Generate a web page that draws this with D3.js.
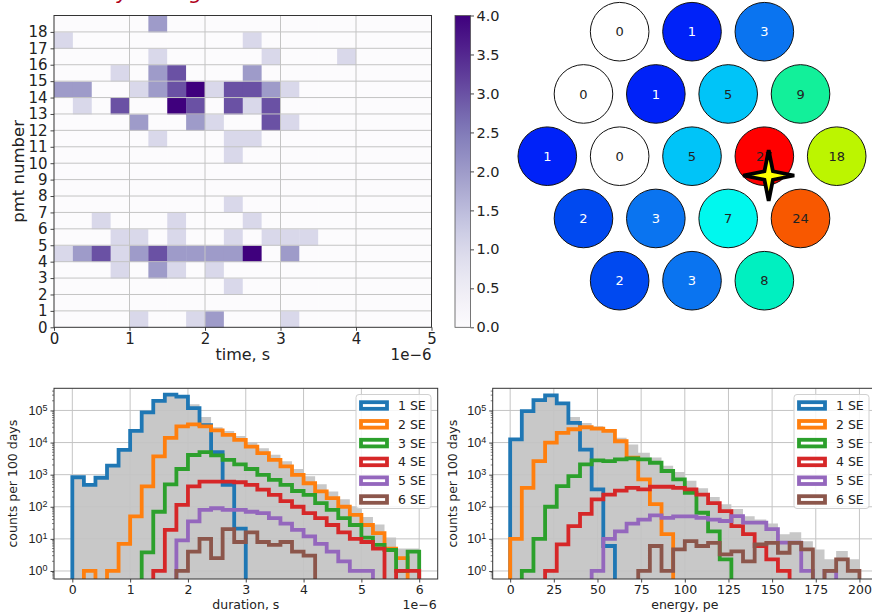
<!DOCTYPE html>
<html lang="en">
<head>
<meta charset="UTF-8">
<title>pmt hits, hexagon map, duration and energy histograms</title>
<script src="https://cdn.jsdelivr.net/npm/d3@7"></script>
<style>
  body { margin: 0; background: #fff; }
  svg { display: block; font-family: "DejaVu Sans", sans-serif; }
</style>
</head>
<body>
<svg id="fig" width="872" height="613"></svg>
<script>
// ---- data ----
// top left: photon counts, [pmt, time bin (0.25 us), count]
const timeBins = d3.range(20).map(i => i * 0.25);
const pmtRows = d3.range(19);
const hitCells = [
  [18, 5, 2],
  [17, 0, 1], [17, 10, 1],
  [16, 5, 1], [16, 11, 1], [16, 15, 1],
  [15, 3, 1], [15, 5, 2], [15, 6, 3], [15, 10, 2],
  [14, 0, 2], [14, 1, 2], [14, 4, 1], [14, 5, 2], [14, 6, 3], [14, 7, 4], [14, 8, 1], [14, 9, 3], [14, 10, 3], [14, 11, 2], [14, 12, 1],
  [13, 1, 1], [13, 3, 3], [13, 6, 4], [13, 7, 3], [13, 9, 3], [13, 10, 1], [13, 11, 3],
  [12, 4, 2], [12, 7, 2], [12, 8, 1], [12, 11, 3], [12, 12, 1],
  [11, 5, 1], [11, 9, 1], [11, 10, 1],
  [10, 9, 1],
  [7, 9, 1],
  [6, 2, 1], [6, 6, 1], [6, 10, 1],
  [5, 3, 1], [5, 4, 1], [5, 6, 1], [5, 9, 1], [5, 11, 1], [5, 12, 1], [5, 13, 1],
  [4, 0, 1], [4, 1, 2], [4, 2, 3], [4, 3, 1], [4, 4, 2], [4, 5, 3], [4, 6, 2], [4, 7, 2], [4, 8, 2], [4, 9, 2], [4, 10, 4], [4, 12, 2],
  [3, 3, 1], [3, 5, 2], [3, 6, 1], [3, 8, 1],
  [2, 9, 1],
  [0, 4, 1], [0, 7, 1], [0, 8, 2], [0, 12, 1]
];
const colorbarTicks = [0, 0.5, 1, 1.5, 2, 2.5, 3, 3.5, 4];

// top right: counts per pmt, hexagon rows top to bottom
const hexRows = [
  [0, 1, 3],
  [0, 1, 5, 9],
  [1, 0, 5, 27, 18],
  [2, 3, 7, 24],
  [2, 3, 8]
];
const starHex = [1.06, 0.31]; // reconstructed position, in pmt pitch units

// bottom: histograms, 30 bins each
const durEdges = d3.range(31).map(i => i * 0.2);       // us
const eneEdges = d3.range(31).map(i => i * 200 / 30);  // pe
const seLabels = ["1 SE", "2 SE", "3 SE", "4 SE", "5 SE", "6 SE"];

const durAll = [830, 480, 800, 1900, 5900, 23000, 88000, 205000, 325000, 300000, 155000, 62000, 30000, 23000, 16000, 10500, 6600, 4200, 2600, 1500, 900, 500, 300, 170, 100, 48, 28, 11, 5, 5];
const durSE1 = [830, 480, 800, 1900, 5900, 23000, 87000, 200000, 310000, 270000, 118000, 35000, 5000, 480, 21, 0, 0, 0, 0, 0, 0, 0, 0, 0, 0, 0, 0, 0, 0, 0];
const durSE2 = [0, 1, 0, 1, 7, 50, 430, 3700, 14000, 32000, 37000, 32000, 24000, 17400, 12200, 7500, 4700, 2900, 1800, 990, 540, 300, 185, 100, 56, 27, 15, 5, 2.5, 0];
const durSE3 = [0, 0, 0, 0, 0, 0, 3.8, 70, 500, 1500, 4100, 5000, 4000, 2900, 2100, 1500, 990, 690, 480, 310, 235, 130, 80, 44, 27, 11, 6.5, 4.5, 1, 4];
const durSE4 = [0, 0, 0, 0, 0, 0, 0, 1, 19, 115, 430, 610, 610, 610, 580, 480, 340, 235, 150, 100, 63, 44, 27, 16, 10, 8, 5, 0, 1, 1];
const durSE5 = [0, 0, 0, 0, 0, 0, 0, 0, 0, 9, 35, 80, 90, 80, 80, 70, 63, 44, 30, 19, 12, 7, 4, 2, 1, 1, 0, 0, 0, 0];
const durSE6 = [0, 0, 0, 0, 0, 0, 0, 0, 0, 1, 4, 10, 2.5, 20, 8, 16, 8, 6.5, 8, 4, 3, 0, 0, 0, 0, 0, 0, 0, 0, 0];

const eneAll = [12500, 95000, 210000, 300000, 170000, 63000, 41000, 32000, 26000, 14000, 8700, 4800, 3400, 1900, 1200, 650, 380, 200, 120, 85, 51, 40, 30, 14, 16, 8.5, 4.7, 2.3, 4.2, 2.3];
const eneSE1 = [12500, 95000, 210000, 295000, 165000, 41000, 6000, 350, 6, 0, 0, 0, 0, 0, 0, 0, 0, 0, 0, 0, 0, 0, 0, 0, 0, 0, 0, 0, 0, 0];
const eneSE2 = [10, 390, 2650, 10000, 20000, 26000, 30000, 27000, 23000, 11000, 3400, 710, 120, 14, 0, 0, 0, 0, 0, 0, 0, 0, 0, 0, 0, 0, 0, 0, 0, 0];
const eneSE3 = [0, 1, 10, 100, 440, 900, 2100, 2800, 2650, 3000, 3200, 3000, 2350, 1300, 710, 270, 65, 17, 2.3, 0, 0, 0, 0, 0, 0, 0, 0, 0, 0, 0];
const eneSE4 = [0, 0, 0, 1, 6.7, 25, 60, 170, 240, 320, 390, 350, 420, 420, 390, 350, 240, 130, 73, 25, 14, 6, 2.3, 1, 0, 0, 0, 0, 0, 0];
const eneSE5 = [0, 0, 0, 0, 0, 0, 0, 1, 10, 17, 30, 40, 54, 45, 50, 50, 45, 40, 36, 51, 32, 32, 20, 7.6, 7.6, 1, 0, 1, 0, 0];
const eneSE6 = [0, 0, 0, 0, 0, 0, 0, 0, 0, 0, 0, 1, 6, 1, 4.7, 8.5, 6, 7.5, 3.3, 4.1, 2, 6.7, 7.5, 3.7, 7.5, 4.7, 0, 1, 2.3, 1];

// ---- drawing ----
const svg = d3.select('#fig');
const ink = '#222';
const gridCol = '#c4c4c4';

// slide title above the heatmap, cropped at the top edge like the reference
svg.append('text').attr('x', 37).attr('y', -1.5)
  .attr('font-size', 21).attr('font-style', 'italic').attr('fill', '#b0001a')
  .text('Anomaly in ring');

// ---------- heatmap ----------
const hx = d3.scaleLinear().domain([0, 5]).range([54, 431.5]);
const hy = d3.scaleLinear().domain([0, 19]).range([327.3, 15.5]);
const heatColor = v => d3.interpolatePurples(v / 4);

const cells = [];
pmtRows.forEach(p => timeBins.forEach(t => cells.push({ p, t, v: 0 })));
hitCells.forEach(([p, c, v]) => { cells[p * timeBins.length + c].v = v; });

const gH = svg.append('g');
gH.selectAll('rect.cell').data(cells).join('rect')
  .attr('class', 'cell')
  .attr('x', d => hx(d.t)).attr('y', d => hy(d.p + 1))
  .attr('width', hx(0.25) - hx(0) + 0.4)
  .attr('height', hy(0) - hy(1) + 0.4)
  .attr('fill', d => heatColor(d.v));

gH.selectAll('line.gx').data(d3.range(1, 5)).join('line')
  .attr('x1', d => hx(d)).attr('x2', d => hx(d))
  .attr('y1', hy(0)).attr('y2', hy(19))
  .attr('stroke', gridCol).attr('stroke-width', 1);
gH.selectAll('line.gy').data(d3.range(1, 19)).join('line')
  .attr('y1', d => hy(d)).attr('y2', d => hy(d))
  .attr('x1', hx(0)).attr('x2', hx(5))
  .attr('stroke', gridCol).attr('stroke-width', 1);
gH.append('rect').attr('x', hx(0)).attr('y', hy(19))
  .attr('width', hx(5) - hx(0)).attr('height', hy(0) - hy(19))
  .attr('fill', 'none').attr('stroke', '#333').attr('stroke-width', 1);

function styleAxis(g, size) {
  g.select('.domain').remove();
  g.selectAll('.tick line').attr('stroke', '#333').attr('stroke-width', 0.9);
  g.selectAll('.tick text').attr('fill', ink).attr('font-size', size)
    .attr('font-family', '"DejaVu Sans", sans-serif');
}

gH.append('g').attr('transform', `translate(0,${hy(0)})`)
  .call(d3.axisBottom(hx).tickValues(d3.range(6)).tickFormat(d3.format('d')).tickSize(3.5).tickPadding(3))
  .call(g => styleAxis(g, 15));
gH.append('g').attr('transform', `translate(${hx(0)},0)`)
  .call(d3.axisLeft(hy).tickValues(pmtRows).tickFormat(d3.format('d')).tickSize(3.5).tickPadding(3))
  .call(g => styleAxis(g, 15));

gH.append('text').attr('x', (hx(0) + hx(5)) / 2).attr('y', 360)
  .attr('text-anchor', 'middle').attr('font-size', 16).attr('fill', ink).text('time, s');
gH.append('text').attr('x', hx(5)).attr('y', 360)
  .attr('text-anchor', 'end').attr('font-size', 15).attr('fill', ink).text('1e\u22126');
gH.append('text').attr('transform', `translate(24,${(hy(0) + hy(19)) / 2}) rotate(-90)`)
  .attr('text-anchor', 'middle').attr('font-size', 16.5).attr('fill', ink).text('pmt number');

// colorbar
const cb = d3.scaleLinear().domain([0, 4]).range([hy(0), hy(19)]);
const grad = svg.append('defs').append('linearGradient').attr('id', 'purples')
  .attr('x1', 0).attr('y1', 1).attr('x2', 0).attr('y2', 0);
grad.selectAll('stop').data(d3.range(0, 1.0001, 0.05)).join('stop')
  .attr('offset', d => d).attr('stop-color', d => d3.interpolatePurples(d));
svg.append('rect').attr('x', 455).attr('y', cb(4)).attr('width', 15.5).attr('height', cb(0) - cb(4))
  .attr('fill', 'url(#purples)').attr('stroke', '#555').attr('stroke-width', 0.8);
svg.append('g').attr('transform', 'translate(470.5,0)')
  .call(d3.axisRight(cb).tickValues(colorbarTicks).tickFormat(d3.format('.1f')).tickSize(3.5).tickPadding(2.5))
  .call(g => styleAxis(g, 14.5));

// ---------- hexagon map ----------
const pitchX = d3.scaleLinear().domain([-2, 2]).range([547.3, 836.7]);
const pitchY = d3.scaleLinear().domain([-2, 2]).range([31.7, 280.7]);
const hexColor = d3.scaleLinear()
  .domain([1, 2, 3, 5, 7, 8, 9, 18, 24, 27])
  .range(['#0022f8', '#0049f0', '#0a74f0', '#00c4f8', '#00f8ee', '#00f0c0', '#12f09a', '#bcf500', '#f85800', '#ff0000'])
  .clamp(true);
const pmts = [];
hexRows.forEach((row, r) => row.forEach((v, i) => pmts.push({ v, hx: i - (row.length - 1) / 2, hy: r - 2 })));

const gP = svg.append('g');
gP.selectAll('circle').data(pmts).join('circle')
  .attr('cx', d => pitchX(d.hx)).attr('cy', d => pitchY(d.hy)).attr('r', 29.3)
  .attr('fill', d => d.v === 0 ? '#ffffff' : hexColor(d.v))
  .attr('stroke', '#111').attr('stroke-width', 1);
gP.selectAll('text').data(pmts).join('text')
  .attr('x', d => pitchX(d.hx)).attr('y', d => pitchY(d.hy)).attr('dy', '0.36em')
  .attr('text-anchor', 'middle').attr('font-size', 13)
  .attr('fill', d => (d.v >= 1 && d.v <= 3) ? '#ffffff' : ink)
  .text(d => d.v);

const starPath = d3.range(8).map(k => {
  const a = k * Math.PI / 4 - Math.PI / 2, rr = k % 2 === 0 ? 25.5 : 6;
  return [rr * Math.cos(a), rr * Math.sin(a)];
});
gP.append('path')
  .attr('d', 'M' + starPath.join('L') + 'Z')
  .attr('transform', `translate(${pitchX(starHex[0])},${pitchY(starHex[1])})`)
  .attr('fill', '#ffff00').attr('stroke', '#000').attr('stroke-width', 3.8)
  .attr('stroke-linejoin', 'miter');

// ---------- histograms ----------
const seColors = ['#1f77b4', '#ff7f0e', '#2ca02c', '#d62728', '#9467bd', '#8c564b'];
const yLog = d3.scaleLog().domain([Math.pow(10, -0.25), Math.pow(10, 5.69)]).range([579, 388.3]);

function stepPoints(vals, edges, x) {
  const low = 1e-3;
  const pts = [[x(edges[0]), yLog(low)]];
  vals.forEach((v, i) => {
    const yy = yLog(v > 0 ? v : low);
    pts.push([x(edges[i]), yy], [x(edges[i + 1]), yy]);
  });
  pts.push([x(edges[edges.length - 1]), yLog(low)]);
  return pts;
}

function histPanel(id, opt) {
  const x = d3.scaleLinear().domain(opt.xDomain).range(opt.xRange);
  const [x0, x1] = opt.xRange, [yb, yt] = yLog.range();
  const g = svg.append('g');
  g.append('clipPath').attr('id', id).append('rect')
    .attr('x', x0).attr('y', yt).attr('width', x1 - x0).attr('height', yb - yt);
  const plot = g.append('g').attr('clip-path', `url(#${id})`);
  const line = d3.line();

  plot.append('path').attr('d', line(stepPoints(opt.all, opt.edges, x)) + 'Z')
    .attr('fill', '#c8c8c8');

  const decades = d3.range(0, 6).map(k => Math.pow(10, k));
  plot.selectAll('line.gx').data(opt.ticks).join('line')
    .attr('x1', d => x(d)).attr('x2', d => x(d)).attr('y1', yb).attr('y2', yt)
    .attr('stroke', gridCol).attr('stroke-width', 1);
  plot.selectAll('line.gy').data(decades).join('line')
    .attr('y1', d => yLog(d)).attr('y2', d => yLog(d)).attr('x1', x0).attr('x2', x1)
    .attr('stroke', gridCol).attr('stroke-width', 1);

  opt.series.forEach((vals, i) => {
    plot.append('path').attr('d', line(stepPoints(vals, opt.edges, x)))
      .attr('fill', 'none').attr('stroke', seColors[i]).attr('stroke-width', 3.8)
      .attr('stroke-linejoin', 'miter');
  });

  g.append('rect').attr('x', x0).attr('y', yt).attr('width', x1 - x0).attr('height', yb - yt)
    .attr('fill', 'none').attr('stroke', '#333').attr('stroke-width', 1);

  // x axis
  g.append('g').attr('transform', `translate(0,${yb})`)
    .call(d3.axisBottom(x).tickValues(opt.ticks).tickFormat(d3.format('d')).tickSize(3.5).tickPadding(3))
    .call(a => styleAxis(a, 12.5));

  // y axis: decades with superscripts, plus minor ticks
  const ya = g.append('g').attr('transform', `translate(${x0},0)`)
    .call(d3.axisLeft(yLog).tickValues(decades).tickFormat('').tickSize(3.5))
    .call(a => styleAxis(a, 12.5));
  ya.selectAll('.tick').append('text')
    .attr('x', -6.5).attr('dy', '0.32em').attr('text-anchor', 'end')
    .attr('fill', ink).attr('font-size', 12.5)
    .each(function (d) {
      const t = d3.select(this);
      t.append('tspan').text('10');
      t.append('tspan').attr('dy', '-0.45em').attr('font-size', 9).text(Math.round(Math.log10(d)));
    });
  const minors = [];
  d3.range(-1, 6).forEach(k => d3.range(2, 10).forEach(m => {
    const v = m * Math.pow(10, k);
    if (yLog(v) <= yb && yLog(v) >= yt) minors.push(v);
  }));
  ya.selectAll('line.minor').data(minors).join('line')
    .attr('x1', 0).attr('x2', -2).attr('y1', d => yLog(d)).attr('y2', d => yLog(d))
    .attr('stroke', '#333').attr('stroke-width', 0.6);

  g.append('text').attr('transform', `translate(${opt.yLabelX},${(yb + yt) / 2}) rotate(-90)`)
    .attr('text-anchor', 'middle').attr('font-size', 12.5).attr('fill', ink).text('counts per 100 days');
  g.append('text').attr('x', (x0 + x1) / 2).attr('y', 609)
    .attr('text-anchor', 'middle').attr('font-size', 12.5).attr('fill', ink).text(opt.xLabel);
  if (opt.offset) {
    g.append('text').attr('x', x1 - 1).attr('y', 609)
      .attr('text-anchor', 'end').attr('font-size', 12.5).attr('fill', ink).text(opt.offset);
  }

  // legend
  const lx = opt.legendX, ly = 394.5, step = 18.8;
  const lg = g.append('g');
  lg.append('rect').attr('x', lx).attr('y', ly).attr('width', 75).attr('height', 114)
    .attr('rx', 3).attr('fill', '#ffffff').attr('fill-opacity', 0.85)
    .attr('stroke', '#d0d0d0').attr('stroke-width', 1);
  seLabels.forEach((s, i) => {
    const cy = ly + 11 + i * step;
    lg.append('rect').attr('x', lx + 5).attr('y', cy - 3.3).attr('width', 26).attr('height', 6.6)
      .attr('fill', '#ffffff').attr('stroke', seColors[i]).attr('stroke-width', 3.8);
    lg.append('text').attr('x', lx + 42).attr('y', cy).attr('dy', '0.36em')
      .attr('font-size', 12.5).attr('fill', ink).text(s);
  });
}

histPanel('clipDur', {
  xDomain: [-0.317, 6.32], xRange: [54, 437.7], edges: durEdges, ticks: d3.range(0, 7),
  all: durAll, series: [durSE1, durSE2, durSE3, durSE4, durSE5, durSE6],
  xLabel: 'duration, s', offset: '1e\u22126', yLabelX: 17, legendX: 356
});
histPanel('clipEne', {
  xDomain: [-10, 210], xRange: [492.7, 876.9], edges: eneEdges, ticks: d3.range(0, 201, 25),
  all: eneAll, series: [eneSE1, eneSE2, eneSE3, eneSE4, eneSE5, eneSE6],
  xLabel: 'energy, pe', offset: null, yLabelX: 457, legendX: 794
});
</script>
</body>
</html>
